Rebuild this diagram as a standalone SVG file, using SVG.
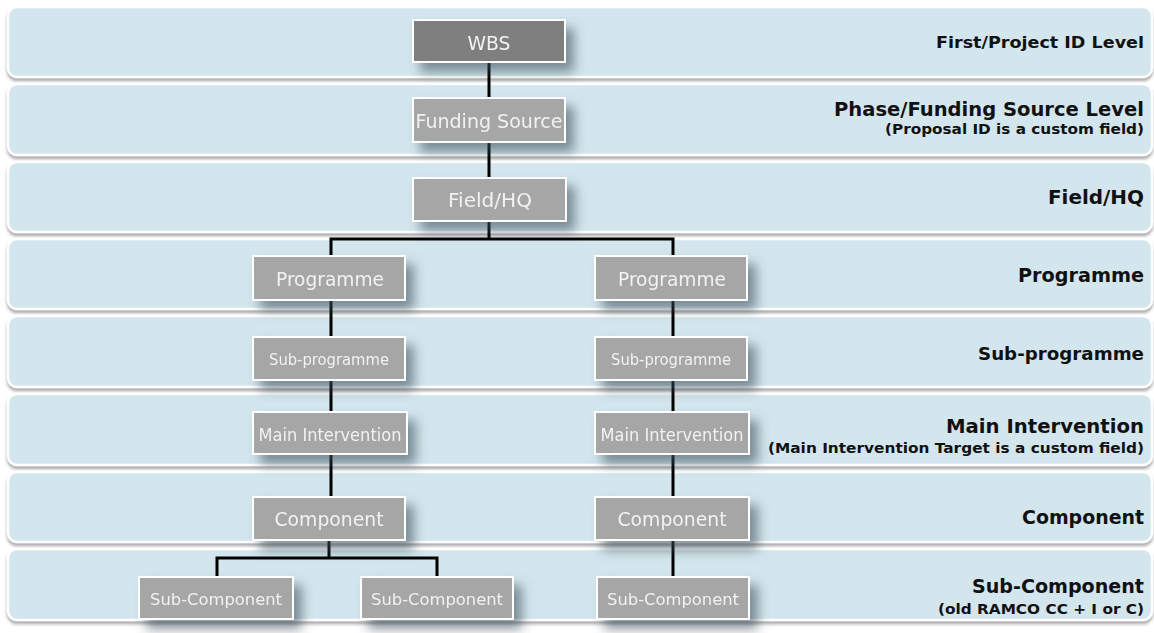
<svg xmlns="http://www.w3.org/2000/svg" width="1154" height="633" viewBox="0 0 1154 633">
<defs>
<filter id="bsh" x="-5%" y="-20%" width="110%" height="150%"><feDropShadow dx="0" dy="3" stdDeviation="1.5" flood-color="#8a8a8a" flood-opacity="0.7"/></filter>
<filter id="nsh" x="-20%" y="-30%" width="150%" height="200%"><feDropShadow dx="8" dy="9" stdDeviation="6" flood-color="#3d4f5a" flood-opacity="0.6"/></filter>
</defs>
<style>
.band{fill:#d3e6ed;stroke:#ffffff;stroke-width:2.5}
.node{fill:#a6a6a6;stroke:#ffffff;stroke-width:2}
.dark{fill:#7f7f7f}
.nt{font-family:"DejaVu Sans",Verdana,sans-serif;fill:#f2f2f2;text-anchor:middle;font-size:19px}
.lab{font-family:"DejaVu Sans",Verdana,sans-serif;font-weight:bold;fill:#111;text-anchor:end;font-size:19.5px}
.sub{font-family:"DejaVu Sans",Verdana,sans-serif;font-weight:bold;fill:#111;text-anchor:end;font-size:14.5px}
.con{fill:none;stroke:#000;stroke-width:3}
</style>
<rect width="1154" height="633" fill="#ffffff"/>
<g id="bands" filter="url(#bsh)">
<rect class="band" x="8" y="7" width="1144" height="70" rx="9"/>
<rect class="band" x="8" y="84" width="1144" height="71" rx="9"/>
<rect class="band" x="8" y="162" width="1144" height="70" rx="9"/>
<rect class="band" x="8" y="239" width="1144" height="70" rx="9"/>
<rect class="band" x="8" y="316" width="1144" height="71" rx="9"/>
<rect class="band" x="8" y="394" width="1144" height="71" rx="9"/>
<rect class="band" x="8" y="472" width="1144" height="70" rx="9"/>
<rect class="band" x="8" y="549" width="1144" height="71" rx="9"/>
</g>
<g id="labels">
<text class="lab" x="1144" y="48" font-size="16.5" style="font-size:16.5px" textLength="208" lengthAdjust="spacingAndGlyphs">First/Project ID Level</text>
<text class="lab" x="1144" y="116" textLength="310" lengthAdjust="spacingAndGlyphs">Phase/Funding Source Level</text>
<text class="sub" x="1144" y="134" textLength="259" lengthAdjust="spacingAndGlyphs">(Proposal ID is a custom field)</text>
<text class="lab" x="1144" y="204" textLength="96" lengthAdjust="spacingAndGlyphs">Field/HQ</text>
<text class="lab" x="1144" y="282" textLength="126" lengthAdjust="spacingAndGlyphs">Programme</text>
<text class="lab" x="1144" y="360" style="font-size:18.5px" textLength="166" lengthAdjust="spacingAndGlyphs">Sub-programme</text>
<text class="lab" x="1144" y="433" textLength="198" lengthAdjust="spacingAndGlyphs">Main Intervention</text>
<text class="sub" x="1144" y="453" textLength="376" lengthAdjust="spacingAndGlyphs">(Main Intervention Target is a custom field)</text>
<text class="lab" x="1144" y="524" textLength="122" lengthAdjust="spacingAndGlyphs">Component</text>
<text class="lab" x="1144" y="593" textLength="172" lengthAdjust="spacingAndGlyphs">Sub-Component</text>
<text class="sub" x="1144" y="614" textLength="206" lengthAdjust="spacingAndGlyphs">(old RAMCO CC + I or C)</text>
</g>
<g id="connectors">
<path class="con" d="M489 62 V98 M489 142 V178 M489 221 V239 M331 256 V239 H673 V256 M331 300 V337 M673 300 V337 M331 380 V412 M673 380 V412 M331 454 V497 M673 454 V497 M329 540 V558 M217 577 V558 H437 V577 M673 540 V577"/>
</g>
<g id="n-wbs" filter="url(#nsh)"><rect class="node dark" x="413" y="20" width="152" height="42"/><text class="nt" x="489" y="50" textLength="43" lengthAdjust="spacingAndGlyphs">WBS</text></g>
<g id="n-funding" filter="url(#nsh)"><rect class="node" x="413" y="98" width="152" height="44"/><text class="nt" x="489" y="128" textLength="147" lengthAdjust="spacingAndGlyphs">Funding Source</text></g>
<g id="n-field" filter="url(#nsh)"><rect class="node" x="413" y="178" width="153" height="43"/><text class="nt" x="490" y="207" textLength="84" lengthAdjust="spacingAndGlyphs">Field/HQ</text></g>
<g id="n-prog1" filter="url(#nsh)"><rect class="node" x="253" y="256" width="152" height="44"/><text class="nt" x="330" y="286" textLength="108" lengthAdjust="spacingAndGlyphs">Programme</text></g>
<g id="n-prog2" filter="url(#nsh)"><rect class="node" x="595" y="256" width="152" height="44"/><text class="nt" x="672" y="286" textLength="108" lengthAdjust="spacingAndGlyphs">Programme</text></g>
<g id="n-subprog1" filter="url(#nsh)"><rect class="node" x="253" y="337" width="152" height="43"/><text class="nt" x="329" y="365" style="font-size:15.5px" textLength="120" lengthAdjust="spacingAndGlyphs">Sub-programme</text></g>
<g id="n-subprog2" filter="url(#nsh)"><rect class="node" x="595" y="337" width="152" height="43"/><text class="nt" x="671" y="365" style="font-size:15.5px" textLength="120" lengthAdjust="spacingAndGlyphs">Sub-programme</text></g>
<g id="n-main1" filter="url(#nsh)"><rect class="node" x="253" y="412" width="154" height="42"/><text class="nt" x="330" y="441" style="font-size:17px" textLength="143" lengthAdjust="spacingAndGlyphs">Main Intervention</text></g>
<g id="n-main2" filter="url(#nsh)"><rect class="node" x="595" y="412" width="154" height="42"/><text class="nt" x="672" y="441" style="font-size:17px" textLength="143" lengthAdjust="spacingAndGlyphs">Main Intervention</text></g>
<g id="n-comp1" filter="url(#nsh)"><rect class="node" x="253" y="497" width="152" height="43"/><text class="nt" x="329" y="526" textLength="109" lengthAdjust="spacingAndGlyphs">Component</text></g>
<g id="n-comp2" filter="url(#nsh)"><rect class="node" x="595" y="497" width="154" height="43"/><text class="nt" x="672" y="526" textLength="109" lengthAdjust="spacingAndGlyphs">Component</text></g>
<g id="n-sc1" filter="url(#nsh)"><rect class="node" x="139" y="577" width="154" height="42"/><text class="nt" x="216" y="605" style="font-size:16px" textLength="132" lengthAdjust="spacingAndGlyphs">Sub-Component</text></g>
<g id="n-sc2" filter="url(#nsh)"><rect class="node" x="361" y="577" width="152" height="42"/><text class="nt" x="437" y="605" style="font-size:16px" textLength="132" lengthAdjust="spacingAndGlyphs">Sub-Component</text></g>
<g id="n-sc3" filter="url(#nsh)"><rect class="node" x="597" y="577" width="152" height="42"/><text class="nt" x="673" y="605" style="font-size:16px" textLength="132" lengthAdjust="spacingAndGlyphs">Sub-Component</text></g>
</svg>
